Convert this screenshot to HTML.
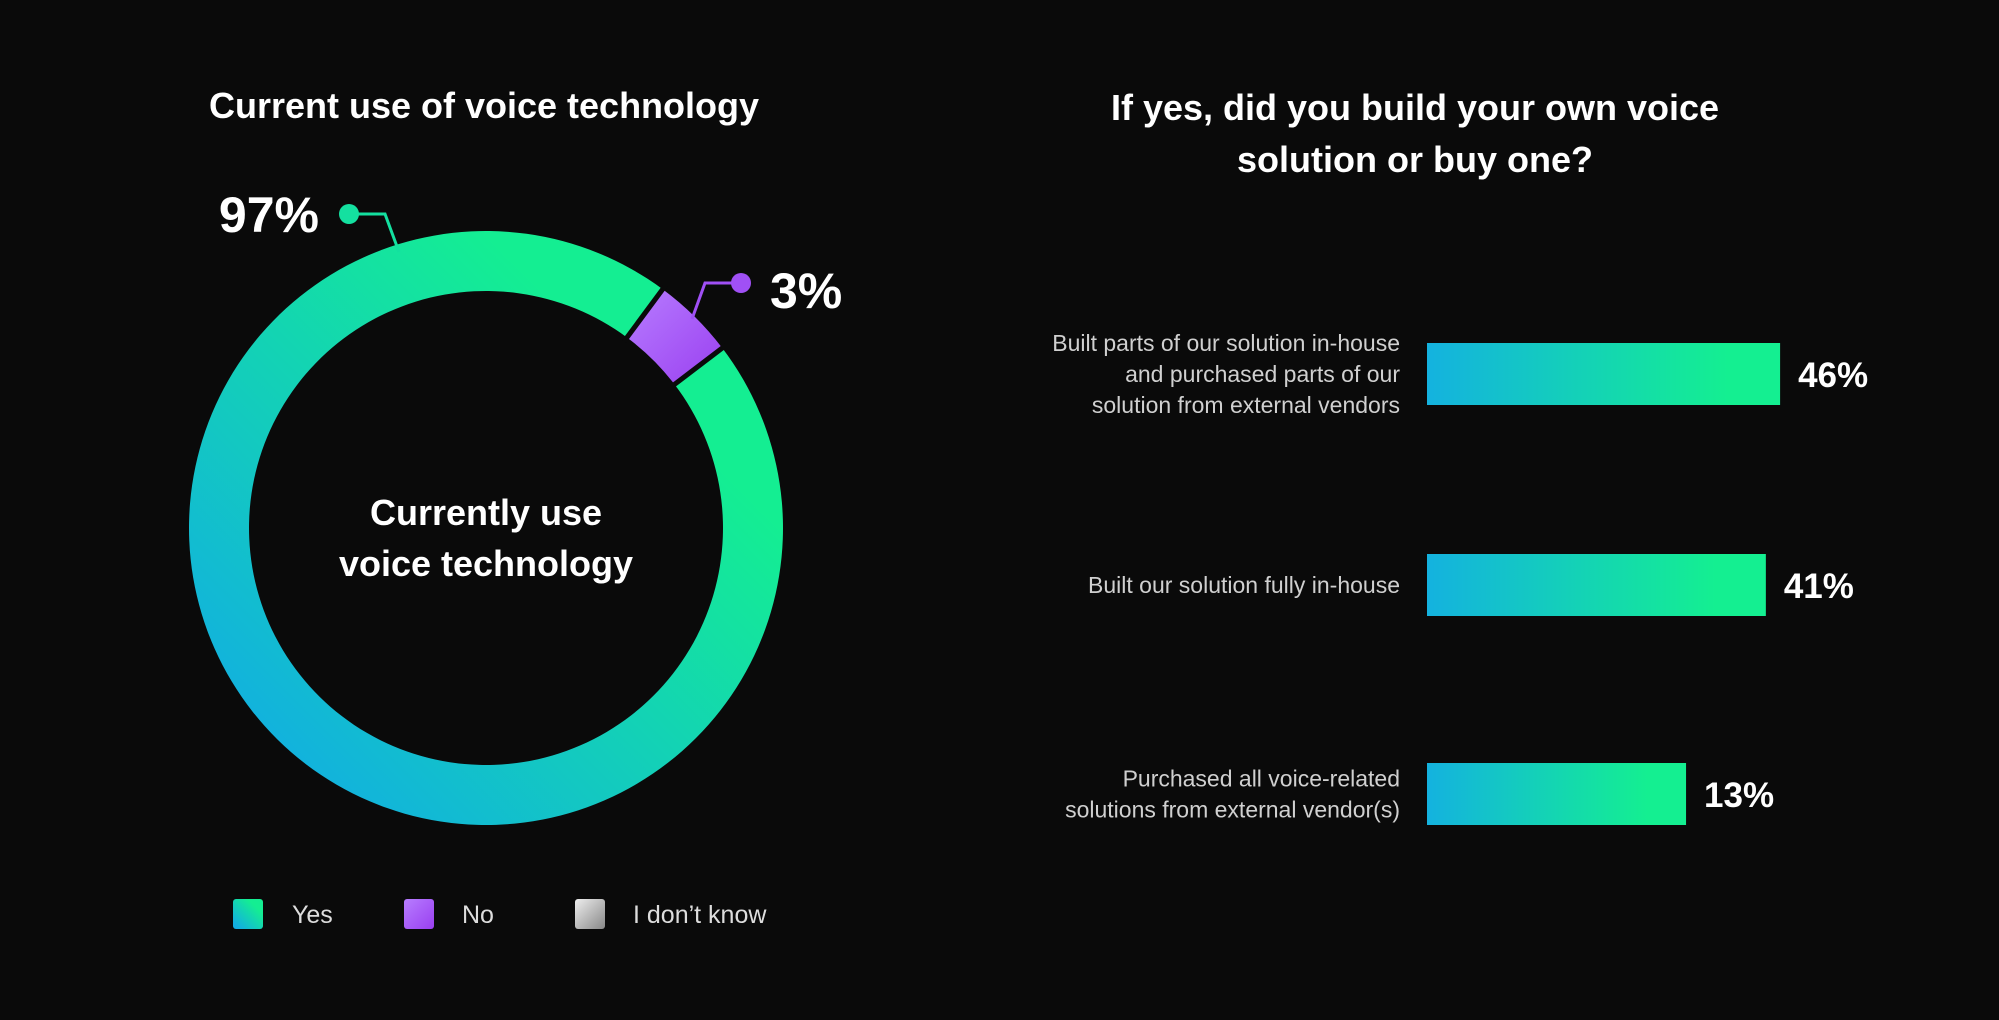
<!DOCTYPE html>
<html><head><meta charset="utf-8"><style>
body{margin:0;background:#0a0a0a;}
svg{display:block;font-family:"Liberation Sans",sans-serif;}
</style></head><body>
<svg id="c" width="1999" height="1020" viewBox="0 0 1999 1020">
<defs>
<linearGradient id="ringG" x1="0" y1="1" x2="1" y2="0">
<stop offset="0.1" stop-color="#12aee2"/><stop offset="0.75" stop-color="#14ee92"/></linearGradient>
<linearGradient id="barG" x1="0" y1="0" x2="1" y2="0">
<stop offset="0" stop-color="#14b2df"/><stop offset="0.85" stop-color="#14ef91"/></linearGradient>
<linearGradient id="purG" x1="0" y1="0" x2="1" y2="1">
<stop offset="0" stop-color="#b77dff"/><stop offset="1" stop-color="#9a3ff0"/></linearGradient>
<linearGradient id="grayG" x1="0" y1="0" x2="1" y2="1">
<stop offset="0" stop-color="#eee"/><stop offset="1" stop-color="#888"/></linearGradient>
</defs>
<rect width="1999" height="1020" fill="#0a0a0a"/>
<text x="484" y="118" fill="#fff" font-size="36" font-weight="bold" text-anchor="middle">Current use of voice technology</text>
<g id="donut"></g>
<text x="486" y="525" fill="#fff" font-size="36" font-weight="bold" text-anchor="middle">Currently use</text>
<text x="486" y="576" fill="#fff" font-size="36" font-weight="bold" text-anchor="middle">voice technology</text>
<g>
<rect x="233" y="899" width="30" height="30" rx="3" fill="url(#ringG)"/>
<text x="292" y="923" fill="#ddd" font-size="25">Yes</text>
<rect x="404" y="899" width="30" height="30" rx="3" fill="url(#purG)"/>
<text x="462" y="923" fill="#ddd" font-size="25">No</text>
<rect x="575" y="899" width="30" height="30" rx="3" fill="url(#grayG)"/>
<text x="633" y="923" fill="#ddd" font-size="25">I don’t know</text>
</g>
<text x="1415" y="120" fill="#fff" font-size="36" font-weight="bold" text-anchor="middle">If yes, did you build your own voice</text>
<text x="1415" y="172" fill="#fff" font-size="36" font-weight="bold" text-anchor="middle">solution or buy one?</text>
<g id="bars"></g>
</svg>
<script>
const donutLabels = ["Yes","No"];
const donutValues = [97,3];
const barCategories = [
 ["Built parts of our solution in-house","and purchased parts of our","solution from external vendors"],
 ["Built our solution fully in-house"],
 ["Purchased all voice-related","solutions from external vendor(s)"]];
const barValues = [46,41,13];

const NS="http://www.w3.org/2000/svg";
function mk(t,a,p){const e=document.createElementNS(NS,t);for(const k in a)e.setAttribute(k,a[k]);p.appendChild(e);return e;}
const cx=486,cy=528,R=297,r=237;
const dg=document.getElementById('donut');
const noSpan=donutValues[1]/100*360*1.5;
const noStart=36.5;
function pt(a,rad){const t=(a-90)*Math.PI/180;return [cx+rad*Math.cos(t),cy+rad*Math.sin(t)];}
function arc(a0,a1){
 const large=(a1-a0)>180?1:0;const p1=pt(a0,R),p2=pt(a1,R),p3=pt(a1,r),p4=pt(a0,r);
 return `M${p1} A${R},${R} 0 ${large} 1 ${p2} L${p3} A${r},${r} 0 ${large} 0 ${p4}Z`;}
const yesSeg=mk('path',{d:arc(noStart+noSpan,noStart+360),fill:'url(#ringG)'},dg);


const noSeg=mk('path',{d:arc(noStart,noStart+noSpan),fill:'url(#purG)'},dg);


[noStart,noStart+noSpan].forEach(a=>{const a1=pt(a,r-5),a2=pt(a,R+5);
 const l=mk('line',{x1:a1[0],y1:a1[1],x2:a2[0],y2:a2[1],stroke:'#0a0a0a','stroke-width':5},dg);
 
 });
const yl=mk('polyline',{points:"349,214 385,214 399,252",fill:'none',stroke:'#14e0a0','stroke-width':3},dg);


const yd=mk('circle',{cx:349,cy:214,r:10,fill:'#14e0a0'},dg);


const yt=mk('text',{x:319,y:232,fill:'#fff','font-size':50,'font-weight':'bold','text-anchor':'end'},dg);
yt.textContent=donutValues[0]+'%';


const nl=mk('polyline',{points:"741,283 705,283 692,319",fill:'none',stroke:'#a050f5','stroke-width':3},dg);


const nd=mk('circle',{cx:741,cy:283,r:10,fill:'#a050f5'},dg);


const nt=mk('text',{x:770,y:308,fill:'#fff','font-size':50,'font-weight':'bold'},dg);
nt.textContent=donutValues[1]+'%';


const bg=document.getElementById('bars');
const x0=1427;
function xw(v){return 222+2.85*v;}
const rowY=[374,585,794];
barValues.forEach((v,i)=>{
 const w=xw(v),yc=rowY[i];
 const b=mk('rect',{x:x0,y:yc-31,width:w,height:62,fill:'url(#barG)'},bg);
 
 
 const t=mk('text',{x:x0+w+18,y:yc+13,fill:'#fff','font-size':35,'font-weight':'bold'},bg);
 t.textContent=v+'%';
 
 
 const lines=barCategories[i],n=lines.length;
 lines.forEach((s,j)=>{
  const c=mk('text',{x:1400,y:yc+8+(j-(n-1)/2)*31,fill:'#d0d0d0','font-size':23,'text-anchor':'end'},bg);
  c.textContent=s;
  
  
 });
});
</script>
</body></html>
